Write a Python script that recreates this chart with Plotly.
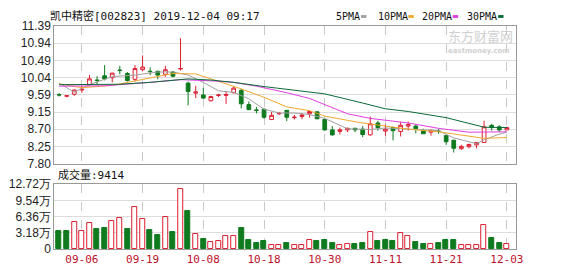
import plotly.graph_objects as go

# ---- trading days (MM-DD) ----
dates = ["09-03", "09-04", "09-05", "09-06", "09-09", "09-10", "09-11", "09-12", "09-16", "09-17",
         "09-18", "09-19", "09-20", "09-23", "09-24", "09-25", "09-26", "09-27", "09-30", "10-08",
         "10-09", "10-10", "10-11", "10-14", "10-15", "10-16", "10-17", "10-18", "10-21", "10-22",
         "10-23", "10-24", "10-25", "10-28", "10-29", "10-30", "10-31", "11-01", "11-04", "11-05",
         "11-06", "11-07", "11-08", "11-11", "11-12", "11-13", "11-14", "11-15", "11-18", "11-19",
         "11-20", "11-21", "11-22", "11-25", "11-26", "11-27", "11-28", "11-29", "12-02", "12-03"]

# ---- daily OHLC ----
open_ = [9.60, 9.56, 9.61, 9.72, 9.86, 9.98, 10.09, 10.04, 10.24, 10.15,
         10.00, 10.25, 10.21, 10.21, 10.13, 10.19, 10.27, 9.90, 9.64, 9.59,
         9.44, 9.58, 9.58, 9.65, 9.71, 9.34, 9.20, 9.22, 8.95, 9.10,
         9.19, 9.00, 9.03, 9.10, 9.15, 8.95, 8.68, 8.64, 8.68, 8.72,
         8.70, 8.55, 8.86, 8.65, 8.74, 8.64, 8.78, 8.78, 8.67, 8.62,
         8.65, 8.53, 8.41, 8.19, 8.24, 8.29, 8.35, 8.80, 8.76, 8.68]
high = [9.64, 9.58, 9.73, 9.83, 10.11, 10.08, 10.37, 10.17, 10.35, 10.19,
        10.37, 10.62, 10.31, 10.22, 10.35, 10.21, 11.07, 9.94, 9.83, 9.78,
        9.57, 9.62, 9.69, 9.80, 9.75, 9.42, 9.28, 9.24, 9.15, 9.15,
        9.20, 9.07, 9.11, 9.18, 9.17, 8.96, 8.78, 8.74, 8.74, 8.74,
        8.78, 9.03, 8.92, 8.82, 8.76, 8.89, 8.90, 8.82, 8.71, 8.69,
        8.70, 8.55, 8.42, 8.29, 8.32, 8.36, 8.92, 8.84, 8.80, 8.76]
low = [9.55, 9.53, 9.57, 9.65, 9.83, 9.86, 9.97, 9.92, 10.13, 9.94,
       9.94, 10.21, 10.11, 10.00, 10.06, 10.05, 10.23, 9.32, 9.51, 9.49,
       9.42, 9.54, 9.36, 9.63, 9.24, 9.19, 9.11, 8.97, 8.94, 9.07,
       8.91, 8.95, 8.96, 9.00, 8.96, 8.66, 8.53, 8.56, 8.62, 8.62,
       8.49, 8.53, 8.66, 8.53, 8.41, 8.51, 8.66, 8.59, 8.57, 8.53,
       8.58, 8.29, 8.09, 8.16, 8.20, 8.20, 8.34, 8.66, 8.62, 8.67]
close = [9.59, 9.57, 9.72, 9.74, 10.01, 9.97, 10.01, 10.16, 10.23, 9.97,
         10.28, 10.32, 10.20, 10.11, 10.25, 10.08, 10.28, 9.68, 9.67, 9.51,
         9.55, 9.59, 9.60, 9.77, 9.36, 9.21, 9.19, 9.01, 9.06, 9.11,
         9.01, 9.01, 9.07, 9.16, 8.97, 8.68, 8.55, 8.68, 8.72, 8.68,
         8.56, 8.84, 8.74, 8.70, 8.66, 8.80, 8.82, 8.71, 8.58, 8.67,
         8.64, 8.37, 8.20, 8.25, 8.30, 8.35, 8.76, 8.74, 8.68, 8.74]

# ---- volume (万), last session 9414 ----
last_volume = 9414
volume = [3.5, 3.5, 5.35, 3.5, 5.1, 3.87, 4.1, 5.5, 6.1, 3.87,
          8.25, 5.9, 3.7, 2.8, 6.3, 3.3, 11.8, 7.4, 2.9, 2.0,
          1.4, 1.55, 2.6, 2.6, 4.1, 1.85, 1.1, 1.5, 0.87, 0.74,
          1.1, 0.87, 0.87, 1.8, 1.6, 1.85, 1.23, 0.87, 1.05, 0.92,
          1.23, 3.27, 1.6, 1.8, 1.6, 3.08, 2.6, 1.42, 1.05, 1.05,
          1.23, 1.8, 1.8, 0.87, 0.74, 0.87, 4.74, 2.15, 1.1, last_volume / 10000]
vol_dir = "GGRRRGGRRGRRGGRGRGRGRRRRGGGGRRGRRRGGGRRGGRGGGRRGGRGGGRRRRGGR"

# ---- moving averages (session index, value) ----
ma5_idx = [0, 2, 4, 7, 10, 13, 15, 17, 19, 21, 23, 25, 27, 29, 31, 33, 35, 37, 38, 41, 43, 45, 48, 50, 52, 54, 55, 56, 58, 59]
ma5_val = [9.90, 9.66, 9.86, 10.07, 10.11, 10.19, 10.19, 10.11, 9.92, 9.70, 9.66, 9.49, 9.22, 9.12, 9.12,
           9.08, 8.98, 8.80, 8.71, 8.69, 8.73, 8.71, 8.69, 8.66, 8.47, 8.36, 8.32, 8.42, 8.57, 8.62]
ma10_idx = [0, 3, 7, 11, 15, 18, 21, 24, 27, 30, 33, 35, 38, 40, 43, 46, 50, 54, 56, 59]
ma10_val = [9.88, 9.78, 9.84, 9.99, 10.15, 10.14, 9.95, 9.75, 9.53, 9.28, 9.18, 9.04, 8.93, 8.86, 8.78,
            8.70, 8.63, 8.52, 8.46, 8.48]
ma20_idx = [0, 6, 12, 16, 20, 23, 26, 28, 30, 33, 36, 38, 41, 46, 50, 54, 59]
ma20_val = [9.82, 9.83, 9.92, 9.99, 9.96, 9.92, 9.82, 9.74, 9.65, 9.50, 9.25, 9.10, 8.98, 8.86, 8.72, 8.62, 8.63]
ma30_idx = [0, 8, 12, 17, 20, 23, 27, 30, 35, 40, 43, 46, 51, 56, 59]
ma30_val = [9.86, 9.87, 9.92, 10.01, 9.98, 9.92, 9.81, 9.74, 9.62, 9.38, 9.23, 9.16, 9.00, 8.75, 8.74]

# ---- axis labels ----
price_ticks = ["7.80", "8.25", "8.70", "9.15", "9.59", "10.04", "10.49", "10.94", "11.39"]
vol_ticks = ["0", "3.18万", "6.36万", "9.54万", "12.72万"]
date_ticks = ["09-06", "09-19", "10-08", "10-18", "10-30", "11-11", "11-21", "12-03"]

title = "凯中精密[002823] 2019-12-04 09:17"
ma_names = ["5PMA", "10PMA", "20PMA", "30PMA"]

RED = "#dc1e32"
GREEN = "#0f7a1e"
MA_COLORS = ["#a0a0a0", "#f0a82e", "#e13ee1", "#0b6b3a"]
MONO = "DejaVu Sans Mono, Noto Sans CJK SC"

W, H = 578, 276
x = list(range(len(dates)))
price_lo, price_hi = float(price_ticks[0]), float(price_ticks[-1])
price_tickvals = [price_lo + k * (price_hi - price_lo) / (len(price_ticks) - 1) for k in range(len(price_ticks))]
vol_hi = float(vol_ticks[-1].rstrip("万"))
vol_tickvals = [k * vol_hi / (len(vol_ticks) - 1) for k in range(len(vol_ticks))]
date_tickvals = [dates.index(d) for d in date_ticks]

fig = go.Figure()

fig.add_trace(go.Candlestick(
    x=x, open=open_, high=high, low=low, close=close,
    increasing=dict(line=dict(color=RED, width=1), fillcolor="white"),
    decreasing=dict(line=dict(color=GREEN, width=1), fillcolor=GREEN),
    whiskerwidth=0, hoverinfo="skip", xaxis="x", yaxis="y",
))

for idx, val, col in zip([ma5_idx, ma10_idx, ma20_idx, ma30_idx],
                         [ma5_val, ma10_val, ma20_val, ma30_val], MA_COLORS):
    fig.add_trace(go.Scatter(x=idx, y=val, mode="lines", line=dict(color=col, width=1),
                             hoverinfo="skip", xaxis="x", yaxis="y"))

up_x = [i for i in x if vol_dir[i] == "R"]
dn_x = [i for i in x if vol_dir[i] == "G"]
fig.add_trace(go.Bar(x=up_x, y=[volume[i] for i in up_x], width=0.66,
                     marker=dict(color="white", line=dict(color=RED, width=1)),
                     hoverinfo="skip", xaxis="x2", yaxis="y2"))
fig.add_trace(go.Bar(x=dn_x, y=[volume[i] for i in dn_x], width=0.66,
                     marker=dict(color=GREEN, line=dict(color=GREEN, width=1)),
                     hoverinfo="skip", xaxis="x2", yaxis="y2"))

x_dom = [55 / W, 523 / W]
x_rng = [-0.64, 60.17]
common_x = dict(domain=x_dom, range=x_rng, tickvals=date_tickvals, showgrid=True,
                gridcolor="#c8c8c8", griddash="dash", gridwidth=1, showline=True, mirror=True,
                linecolor="#999999", linewidth=1, zeroline=False, ticks="", fixedrange=True)
common_y = dict(showgrid=True, gridcolor="#dddddd", gridwidth=1, showline=True, mirror=True,
                linecolor="#999999", linewidth=1, zeroline=False, ticks="",
                tickfont=dict(family="Liberation Sans, Arial", size=12, color="#222222"), fixedrange=True)

fig.update_layout(
    width=W, height=H, margin=dict(l=0, r=0, t=0, b=0),
    paper_bgcolor="white", plot_bgcolor="white", showlegend=False, hovermode=False,
    bargap=0,
    xaxis=dict(anchor="y", showticklabels=False, rangeslider=dict(visible=False), **common_x),
    yaxis=dict(domain=[1 - 165 / H, 1 - 20 / H], range=[price_lo, price_hi],
               tickvals=price_tickvals, ticktext=price_ticks, **common_y),
    xaxis2=dict(anchor="y2", ticktext=date_ticks, showticklabels=True,
                tickfont=dict(family=MONO, size=11, color="#c0102a"), **common_x),
    yaxis2=dict(domain=[1 - 255 / H, 1 - 186.5 / H], range=[0, vol_hi],
                tickvals=vol_tickvals, ticktext=vol_ticks, **common_y),
)

ann = [
    dict(text=title, x=49 / W, y=1 - 10 / H, xanchor="left", yanchor="middle",
         font=dict(family=MONO, size=11, color="#111111")),
    dict(text="成交量:" + str(last_volume), x=57 / W, y=1 - 177 / H, xanchor="left", yanchor="middle",
         font=dict(family=MONO, size=11, color="#111111")),
    dict(text="东方财富网", x=452 / W, y=1 - 30 / H, xanchor="left", yanchor="middle",
         font=dict(family="Noto Sans CJK SC", size=13, color="#d0d0d0")),
    dict(text="<b>eastmoney.com</b>", x=452 / W, y=1 - 46 / H, xanchor="left", yanchor="middle",
         font=dict(family="DejaVu Sans", size=7, color="#d0d0d0")),
]
legend_x = [339, 381, 426, 472]
shapes = []
for name, lx, col in zip(ma_names, legend_x, MA_COLORS):
    ann.append(dict(text=name, x=lx / W, y=1 - 10 / H, xanchor="left", yanchor="middle",
                    font=dict(family=MONO, size=10, color="#111111")))
    dx = lx + len(name) * 6.02 + 3
    shapes.append(dict(type="rect", xref="paper", yref="paper", x0=dx / W, x1=(dx + 5.5) / W,
                       y0=1 - 11.5 / H, y1=1 - 8.5 / H, fillcolor=col, line=dict(width=0)))
for a in ann:
    a.update(xref="paper", yref="paper", showarrow=False)
fig.update_layout(annotations=ann, shapes=shapes)

fig.write_html("out.html")
